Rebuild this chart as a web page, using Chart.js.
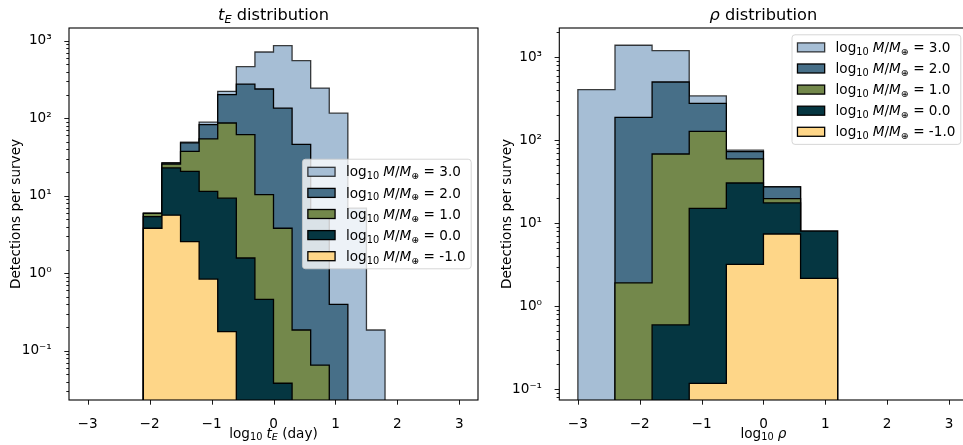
<!DOCTYPE html>
<html><head><meta charset="utf-8">
<script src="https://cdn.jsdelivr.net/npm/chart.js@4/dist/chart.umd.min.js"></script>
<style>
html,body{margin:0;padding:0;background:#fff;overflow:hidden;width:963px;height:445px;}
#c1{position:absolute;left:0;top:0;}
#c2{position:absolute;left:480px;top:0;}
</style></head><body>
<canvas id="c1" width="480" height="445"></canvas>
<canvas id="c2" width="500" height="445"></canvas>
<script>
// ---------------- data ----------------
const massLabels = ['3.0', '2.0', '1.0', '0.0', '-1.0'];
const seriesColors = ['#a6bed5', '#476f88', '#73884b', '#053641', '#fed688'];
const seriesEdges = ['rgba(0,0,0,0.75)', '#000', '#000', '#000', '#000'];

// t_E histogram: bin edges (log10 day) and per-bin detections for each mass
const teBinEdges = [-2.1, -1.8, -1.5, -1.2, -0.9, -0.6, -0.3, 0.0, 0.3, 0.6, 0.9, 1.2, 1.5, 1.8];
const teM3  = [5.95, 26.6, 49, 89, 222, 462, 715, 862, 552, 245, 116, 6.9, 0.185];
const teM2  = [5.9, 26.3, 48, 82.6, 201, 276, 238, 135, 46, 6.5, 0.397, null, null];
const teM1  = [5.9, 25.5, 37.4, 54, 86.7, 61.5, 10.3, 3.8, 0.185, 0.065, null, null, null];
const teM0  = [5.36, 22.8, 20.6, 11.4, 9.3, 1.57, 0.46, 0.038, null, null, null, null, null];
const teMm1 = [3.8, 5.6, 2.55, 0.84, 0.176, null, null, null, null, null, null, null, null];

// rho histogram
const rhoBinEdges = [-3.0, -2.4, -1.8, -1.2, -0.6, 0.0, 0.6, 1.2];
const rhoM3  = [407, 1396, 1202, 342, 76, 27.6, null];
const rhoM2  = [null, 189, 504, 279, 73, 27.4, null];
const rhoM1  = [null, 1.92, 68.4, 128, 59.6, 19.8, null];
const rhoM0  = [null, null, 0.596, 15.1, 30.6, 17.6, 8.07];
const rhoMm1 = [null, null, null, 0.118, 3.2, 7.43, 2.17];

const xTickValues = [-3, -2, -1, 0, 1, 2, 3];
const xTickLabels = ['\u22123', '\u22122', '\u22121', '0', '1', '2', '3'];
const yMajorValues = [0.1, 1, 10, 100, 1000];
const yMajorLabels = ['10\u207B\u00B9', '10\u2070', '10\u00B9', '10\u00B2', '10\u00B3'];

// ---------------- helpers ----------------
const FONT = '"DejaVu Sans"';
const FS = 13.6;
const FLOOR = 1e-4;

function stepPoints(edges, vals) {
  let i0 = vals.findIndex(v => v !== null);
  let i1 = i0;
  while (i1 + 1 < vals.length && vals[i1 + 1] !== null) i1++;
  const pts = [{x: edges[i0], y: FLOOR}];
  for (let i = i0; i <= i1; i++) pts.push({x: edges[i], y: vals[i]});
  pts.push({x: edges[i1 + 1], y: vals[i1]});
  pts.push({x: edges[i1 + 1], y: FLOOR});
  return pts;
}

function yTicks(min, max) {
  const t = [];
  for (let e = -3; e <= 4; e++) {
    for (let k = 1; k <= 9; k++) {
      const v = k * Math.pow(10, e);
      if (v >= min && v <= max) t.push({value: v, major: k === 1});
    }
  }
  return t;
}
function majorLabel(v) {
  const i = yMajorValues.findIndex(m => Math.abs(m - v) / m < 1e-6);
  return i >= 0 ? yMajorLabels[i] : '';
}

function richWidth(ctx, parts, size) {
  let w = 0;
  for (const p of parts) {
    if (p.gap) { w += p.gap * size; continue; }
    ctx.font = (p.it ? 'italic ' : '') + (size * (p.s || 1)) + 'px ' + FONT;
    w += ctx.measureText(p.t).width;
  }
  return w;
}
function drawRich(ctx, parts, x, y, align, size) {
  const total = richWidth(ctx, parts, size);
  let cx = align === 'center' ? x - total / 2 : (align === 'right' ? x - total : x);
  ctx.textBaseline = 'alphabetic';
  ctx.textAlign = 'left';
  for (const p of parts) {
    if (p.gap) { cx += p.gap * size; continue; }
    ctx.font = (p.it ? 'italic ' : '') + (size * (p.s || 1)) + 'px ' + FONT;
    ctx.fillText(p.t, cx, y + (p.dy || 0) * size);
    cx += ctx.measureText(p.t).width;
  }
}

const legendParts = lab => [
  {t: 'log'}, {t: '10', s: 0.72, dy: 0.22}, {gap: 0.3},
  {t: 'M', it: true}, {t: '/'}, {t: 'M', it: true}, {t: '\u2295', s: 0.7, dy: 0.22},
  {t: ' = ' + lab}
];

const decorPlugin = {
  id: 'decor',
  afterDraw(chart) {
    const o = chart.options.plugins.decor;
    const ctx = chart.ctx;
    const a = chart.chartArea;
    ctx.save();
    ctx.fillStyle = '#000';
    ctx.strokeStyle = '#000';
    // ticks
    ctx.lineWidth = 0.9;
    const ys = chart.scales.y, xs = chart.scales.x;
    ys.ticks.forEach(t => {
      const py = Math.round(ys.getPixelForValue(t.value)) + 0.5;
      const len = t.major ? 4.7 : 2.7;
      ctx.beginPath(); ctx.moveTo(a.left - len, py); ctx.lineTo(a.left, py); ctx.stroke();
    });
    xTickValues.forEach(v => {
      const px = Math.round(xs.getPixelForValue(v)) + 0.5;
      ctx.beginPath(); ctx.moveTo(px, a.bottom); ctx.lineTo(px, a.bottom + 4.7); ctx.stroke();
    });
    // spines
    ctx.lineWidth = 1.1;
    ctx.strokeRect(a.left, a.top, a.right - a.left, a.bottom - a.top);
    // title and labels
    const cxm = (a.left + a.right) / 2;
    drawRich(ctx, o.title, cxm, 19.5, 'center', 16.2);
    drawRich(ctx, o.xlabel, cxm, 437.5, 'center', FS);
    ctx.save();
    ctx.translate(o.ylabelX, (a.top + a.bottom) / 2);
    ctx.rotate(-Math.PI / 2);
    ctx.font = FS + 'px ' + FONT;
    ctx.textAlign = 'center'; ctx.textBaseline = 'alphabetic';
    ctx.fillText('Detections per survey', 0, 0);
    ctx.restore();
    // legend
    const pad = 0.4 * FS, hl = 2 * FS, htp = 0.8 * FS, ls = 0.5 * FS, rowH = 14.3, hh = 9;
    let tw = 0;
    massLabels.forEach(l => { tw = Math.max(tw, richWidth(ctx, legendParts(l), FS)); });
    const bw = 2 * pad + hl + htp + tw;
    const bh = 2 * pad + 5 * rowH + 4 * ls;
    const bx = a.right - 0.5 * FS - bw;
    const by = o.legendMode === 'center' ? (a.top + a.bottom) / 2 - bh / 2 : a.top + 0.5 * FS;
    ctx.beginPath();
    ctx.roundRect(bx, by, bw, bh, 3);
    ctx.fillStyle = 'rgba(255,255,255,0.8)';
    ctx.fill();
    ctx.strokeStyle = 'rgba(204,204,204,0.8)';
    ctx.lineWidth = 1;
    ctx.stroke();
    massLabels.forEach((l, i) => {
      const cy = by + pad + i * (rowH + ls) + rowH / 2;
      ctx.fillStyle = seriesColors[i];
      ctx.fillRect(bx + pad, cy - hh / 2, hl, hh);
      ctx.strokeStyle = seriesEdges[i];
      ctx.lineWidth = 1.3;
      ctx.strokeRect(bx + pad, cy - hh / 2, hl, hh);
      ctx.fillStyle = '#000';
      drawRich(ctx, legendParts(l), bx + pad + hl + htp, cy + 4.6, 'left', FS);
    });
    ctx.restore();
  }
};

function makeChart(id, edges, series, yMin, yMax, plotLeft, padRight, decor) {
  const datasets = series.map((vals, i) => ({
    label: 'log10 M/M\u2295 = ' + massLabels[i],
    data: stepPoints(edges, vals),
    stepped: 'before',
    fill: 'start',
    backgroundColor: seriesColors[i],
    borderColor: seriesEdges[i],
    borderWidth: 1.3,
    pointRadius: 0,
    tension: 0,
    order: 5 - i
  }));
  return new Chart(document.getElementById(id), {
    type: 'line',
    data: {datasets},
    plugins: [decorPlugin],
    options: {
      responsive: false,
      animation: false,
      devicePixelRatio: 1,
      layout: {padding: {top: 28, right: padRight, left: 0, bottom: 0}},
      plugins: {legend: {display: false}, tooltip: {enabled: false}, title: {display: false}, decor},
      scales: {
        x: {
          type: 'linear', min: -3.3, max: 3.3,
          afterBuildTicks: s => { s.ticks = xTickValues.map(v => ({value: v})); },
          afterFit: s => { s.height = 45; },
          grid: {display: false}, border: {display: false},
          ticks: {
            autoSkip: false, maxRotation: 0, minRotation: 0, padding: 8, color: '#000',
            font: {family: 'DejaVu Sans', size: FS},
            callback: v => xTickLabels[xTickValues.indexOf(v)]
          }
        },
        y: {
          type: 'logarithmic', min: yMin, max: yMax,
          afterBuildTicks: s => { s.ticks = yTicks(yMin, yMax); },
          afterFit: s => { s.width = plotLeft; },
          grid: {display: false}, border: {display: false},
          ticks: {
            autoSkip: false, padding: 9.3, color: '#000',
            font: {family: 'DejaVu Sans', size: FS},
            callback: v => majorLabel(v)
          }
        }
      }
    }
  });
}

makeChart('c1', teBinEdges, [teM3, teM2, teM1, teM0, teMm1], 0.0231, 1459, 69, 2, {
  title: [{t: 't', it: true}, {t: 'E', it: true, s: 0.7, dy: 0.22}, {t: ' distribution'}],
  xlabel: [{t: 'log'}, {t: '10', s: 0.72, dy: 0.22}, {gap: 0.3}, {t: 't', it: true}, {t: 'E', it: true, s: 0.7, dy: 0.22}, {t: ' (day)'}],
  ylabelX: 20.3,
  legendMode: 'center'
});
makeChart('c2', rhoBinEdges, [rhoM3, rhoM2, rhoM1, rhoM0, rhoMm1], 0.0743, 2254, 79.3, 12.4, {
  title: [{t: '\u03C1', it: true}, {t: ' distribution'}],
  xlabel: [{t: 'log'}, {t: '10', s: 0.72, dy: 0.22}, {gap: 0.3}, {t: '\u03C1', it: true}],
  ylabelX: 30.5,
  legendMode: 'upper'
});
</script>
</body></html>
